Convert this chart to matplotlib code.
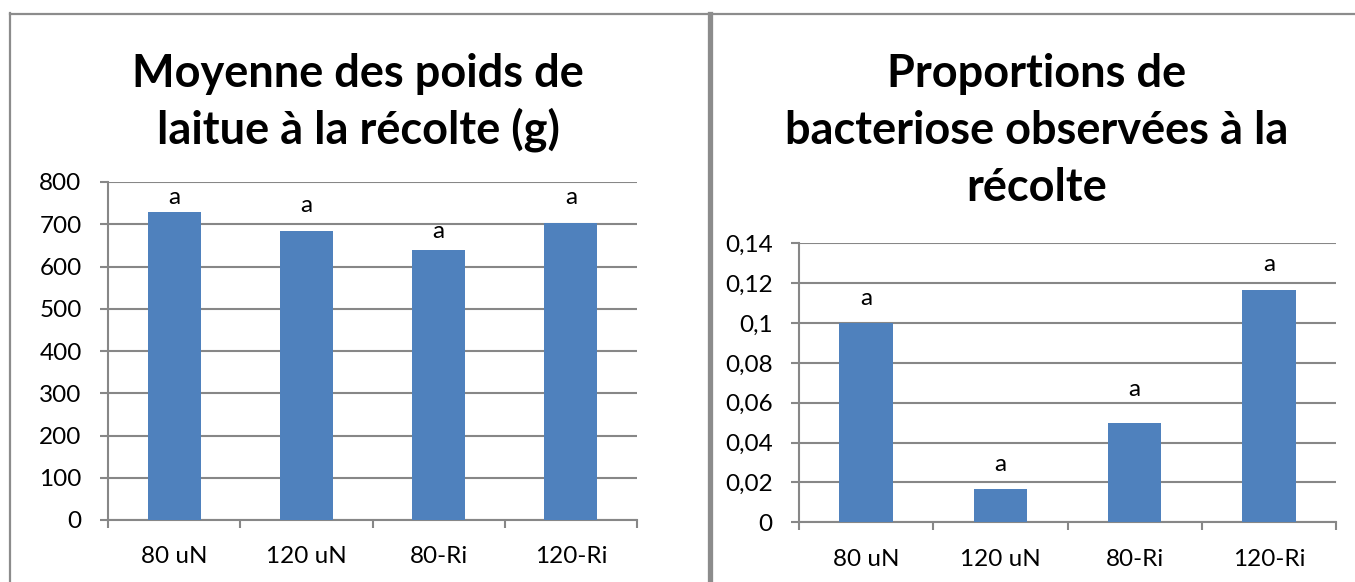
import matplotlib
matplotlib.use("Agg")
import matplotlib.pyplot as plt
from matplotlib.lines import Line2D

# Treatments and measured values
categories = ["80 uN", "120 uN", "80-Ri", "120-Ri"]
poids_moyen = [728, 683, 638, 702]            # mean lettuce weight at harvest (g)
bacteriose = [0.1, 1 / 60, 0.05, 7 / 60]      # proportion of plants with bacteriosis
groupes_poids = ["a", "a", "a", "a"]
groupes_bact = ["a", "a", "a", "a"]
# heights (data units) where the group letters sit
lettre_y_poids = [764, 745, 682, 764]
lettre_y_bact = [0.1125, 0.0288, 0.0664, 0.1292]

ticks_poids = [0, 100, 200, 300, 400, 500, 600, 700, 800]
ticks_bact = [0, 0.02, 0.04, 0.06, 0.08, 0.10, 0.12, 0.14]
labels_bact = ["0", "0,02", "0,04", "0,06", "0,08", "0,1", "0,12", "0,14"]

titre_poids = ["Moyenne des poids de", "laitue à la récolte (g)"]
titre_bact = ["Proportions de", "bacteriose observées à la", "récolte"]

FONT = "Lato"
BLUE = "#4F81BD"
GRID = "#878787"
W, H = 1355, 582
FS = 17.5

fig = plt.figure(figsize=(W / 100, H / 100), dpi=100)
fig.patch.set_facecolor("white")


def px_axes(x0, y_top, x1, y_bottom):
    return fig.add_axes([x0 / W, 1 - y_bottom / H, (x1 - x0) / W, (y_bottom - y_top) / H])


def draw_bars(ax, values, letters, letter_y, yticks, ylabels, ymax):
    xs = list(range(len(categories)))
    ax.bar(xs, values, width=0.4, color=BLUE, zorder=3)
    for x, l, ly in zip(xs, letters, letter_y):
        ax.text(x, ly, l, ha="center", va="center", fontsize=FS, family=FONT, zorder=4)
    ax.set_xlim(-0.5, len(categories) - 0.5)
    ax.set_ylim(0, ymax)
    ax.set_yticks(yticks)
    ax.set_yticklabels(ylabels, fontsize=FS, family=FONT)
    ax.yaxis.grid(True, color=GRID, linewidth=1.5, zorder=0)
    ax.set_axisbelow(True)
    ax.set_xticks([i - 0.5 for i in range(len(categories) + 1)])
    ax.set_xticklabels([])
    ax.set_xticks(xs, minor=True)
    ax.set_xticklabels(categories, minor=True, fontsize=FS, family=FONT)
    ax.tick_params(axis="x", which="major", length=6, width=1.5, color=GRID, direction="out")
    ax.tick_params(axis="x", which="minor", length=0, pad=19)
    ax.tick_params(axis="y", length=6, width=1.5, color=GRID, pad=13)
    for s in ("top", "right"):
        ax.spines[s].set_visible(False)
    for s in ("left", "bottom"):
        ax.spines[s].set_color(GRID)
        ax.spines[s].set_linewidth(1.5)


ax1 = px_axes(108, 182, 637, 520)
draw_bars(ax1, poids_moyen, groupes_poids, lettre_y_poids, ticks_poids,
          [str(t) for t in ticks_poids], 800)

ax2 = px_axes(799, 243.3, 1336, 522.3)
draw_bars(ax2, bacteriose, groupes_bact, lettre_y_bact, ticks_bact, labels_bact, 0.14)

# titles, one line at a time (baseline positions in pixels)
for i, line in enumerate(titre_poids):
    fig.text(358 / W, 1 - (87 + 57 * i) / H, line, ha="center", va="baseline",
             fontsize=32.5, fontweight="bold", family=FONT)
for i, line in enumerate(titre_bact):
    fig.text(1037 / W, 1 - (87 + 57 * i) / H, line, ha="center", va="baseline",
             fontsize=32.5, fontweight="bold", family=FONT)

# chart-area frames
frame = dict(color="#8C8C8C", linewidth=1.6, transform=fig.transFigure, clip_on=False)
fig.add_artist(Line2D([10 / W, 10 / W], [0, 1 - 13 / H], **frame))
fig.add_artist(Line2D([10 / W, 1], [1 - 14 / H, 1 - 14 / H], **frame))
fig.add_artist(Line2D([709.5 / W, 709.5 / W], [0, 1 - 14 / H],
                      color="#8C8C8C", linewidth=3.8, transform=fig.transFigure))

fig.savefig("out.png", dpi=100, facecolor="white")
